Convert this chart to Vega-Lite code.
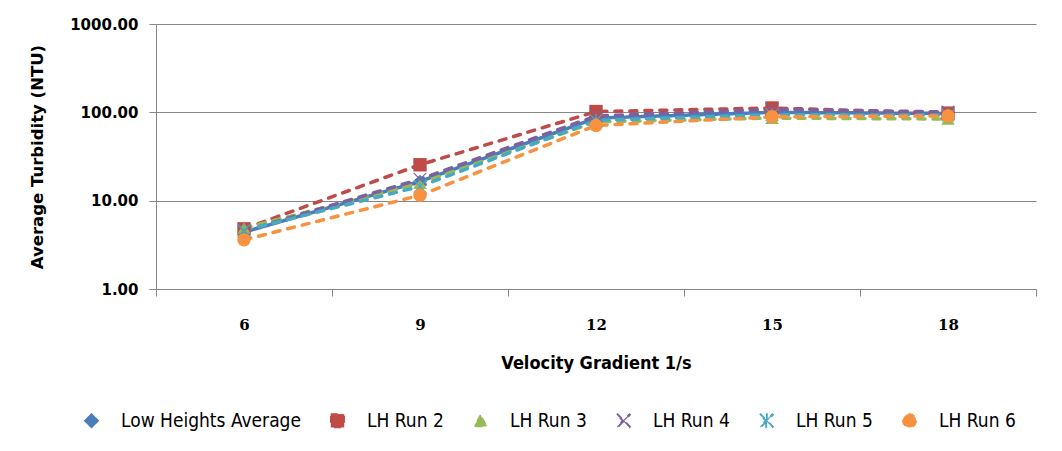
{
  "$schema": "https://vega.github.io/schema/vega-lite/v6.json",
  "width": 880,
  "height": 265,
  "autosize": {"type": "none"},
  "padding": {"left": 156, "top": 24, "right": 26, "bottom": 162},
  "background": "white",
  "config": {
    "view": {"stroke": null},
    "axis": {
      "domainColor": "#868686",
      "tickColor": "#868686",
      "gridColor": "#868686",
      "tickSize": 7,
      "labelColor": "#000000",
      "titleColor": "#000000"
    }
  },
  "data": {
    "values": [
      {"vg": 6, "series": "Low Heights Average", "ntu": 4.4},
      {"vg": 9, "series": "Low Heights Average", "ntu": 16.5},
      {"vg": 12, "series": "Low Heights Average", "ntu": 86},
      {"vg": 15, "series": "Low Heights Average", "ntu": 100},
      {"vg": 18, "series": "Low Heights Average", "ntu": 97},
      {"vg": 6, "series": "LH Run 2", "ntu": 4.8},
      {"vg": 9, "series": "LH Run 2", "ntu": 25.5},
      {"vg": 12, "series": "LH Run 2", "ntu": 102},
      {"vg": 15, "series": "LH Run 2", "ntu": 112},
      {"vg": 18, "series": "LH Run 2", "ntu": 98},
      {"vg": 6, "series": "LH Run 3", "ntu": 4.9},
      {"vg": 9, "series": "LH Run 3", "ntu": 15.8},
      {"vg": 12, "series": "LH Run 3", "ntu": 78},
      {"vg": 15, "series": "LH Run 3", "ntu": 86},
      {"vg": 18, "series": "LH Run 3", "ntu": 84},
      {"vg": 6, "series": "LH Run 4", "ntu": 4.5},
      {"vg": 9, "series": "LH Run 4", "ntu": 17.5},
      {"vg": 12, "series": "LH Run 4", "ntu": 91},
      {"vg": 15, "series": "LH Run 4", "ntu": 108},
      {"vg": 18, "series": "LH Run 4", "ntu": 101},
      {"vg": 6, "series": "LH Run 5", "ntu": 4.6},
      {"vg": 9, "series": "LH Run 5", "ntu": 14.5},
      {"vg": 12, "series": "LH Run 5", "ntu": 81},
      {"vg": 15, "series": "LH Run 5", "ntu": 94},
      {"vg": 18, "series": "LH Run 5", "ntu": 93},
      {"vg": 6, "series": "LH Run 6", "ntu": 3.6},
      {"vg": 9, "series": "LH Run 6", "ntu": 11.5},
      {"vg": 12, "series": "LH Run 6", "ntu": 71},
      {"vg": 15, "series": "LH Run 6", "ntu": 89},
      {"vg": 18, "series": "LH Run 6", "ntu": 91}
    ]
  },
  "encoding": {
    "x": {
      "field": "vg",
      "type": "ordinal",
      "bandPosition": 0.5,
      "scale": {"type": "band", "paddingInner": 0, "paddingOuter": 0},
      "axis": {
        "title": "Velocity Gradient 1/s",
        "labelAngle": 0,
        "tickBand": "extent",
        "grid": false,
        "labelFont": "DejaVu Serif",
        "labelFontWeight": "bold",
        "labelFontSize": 15,
        "labelPadding": 21,
        "titleFont": "DejaVu Sans Condensed, sans-serif",
        "titleFontWeight": "bold",
        "titleFontSize": 18,
        "titlePadding": 22
      }
    },
    "y": {
      "field": "ntu",
      "type": "quantitative",
      "scale": {"type": "log", "domain": [1, 1000]},
      "axis": {
        "title": "Average Turbidity (NTU)",
        "values": [1, 10, 100, 1000],
        "format": ".2f",
        "grid": true,
        "labelFont": "DejaVu Sans",
        "labelFontWeight": "bold",
        "labelFontSize": 15,
        "labelPadding": 11,
        "titleFont": "DejaVu Sans",
        "titleFontWeight": "bold",
        "titleFontSize": 16.5,
        "titlePadding": 24
      }
    },
    "color": {
      "field": "series",
      "type": "nominal",
      "scale": {
        "domain": ["Low Heights Average", "LH Run 2", "LH Run 3", "LH Run 4", "LH Run 5", "LH Run 6"],
        "range": ["#4A7EBB", "#BE4B48", "#98B954", "#7D60A0", "#46AAC5", "#F69240"]
      },
      "legend": {
        "title": null,
        "orient": "none",
        "direction": "horizontal",
        "legendX": -74,
        "legendY": 387,
        "labelFont": "DejaVu Sans Condensed, sans-serif",
        "labelFontSize": 19,
        "labelColor": "#000000",
        "labelLimit": 400,
        "symbolSize": 180,
        "labelOffset": 20,
        "columnPadding": 26,
        "symbolOpacity": 1
      }
    }
  },
  "layer": [
    {
      "mark": {"type": "line", "strokeWidth": 3.5, "strokeCap": "round"},
      "encoding": {
        "strokeDash": {
          "field": "series",
          "type": "nominal",
          "scale": {
            "domain": ["Low Heights Average", "LH Run 2", "LH Run 3", "LH Run 4", "LH Run 5", "LH Run 6"],
            "range": [[1, 0], [7, 8], [7, 8], [7, 8], [7, 8], [7, 8]]
          },
          "legend": null
        }
      }
    },
    {
      "mark": {"type": "point", "filled": true, "size": 180, "opacity": 1},
      "encoding": {
        "shape": {
          "field": "series",
          "type": "nominal",
          "scale": {
            "domain": ["Low Heights Average", "LH Run 2", "LH Run 3", "LH Run 4", "LH Run 5", "LH Run 6"],
            "range": [
              "diamond",
              "square",
              "triangle-up",
              "M-1,-0.88L-0.88,-1L0,-0.12L0.88,-1L1,-0.88L0.12,0L1,0.88L0.88,1L0,0.12L-0.88,1L-1,0.88L-0.12,0Z",
              "M-1,-0.88L-0.88,-1L0,-0.12L0.88,-1L1,-0.88L0.12,0L1,0.88L0.88,1L0,0.12L-0.88,1L-1,0.88L-0.12,0ZM-0.08,-1L0.08,-1L0.08,1L-0.08,1Z",
              "circle"
            ]
          }
        }
      }
    }
  ]
}
